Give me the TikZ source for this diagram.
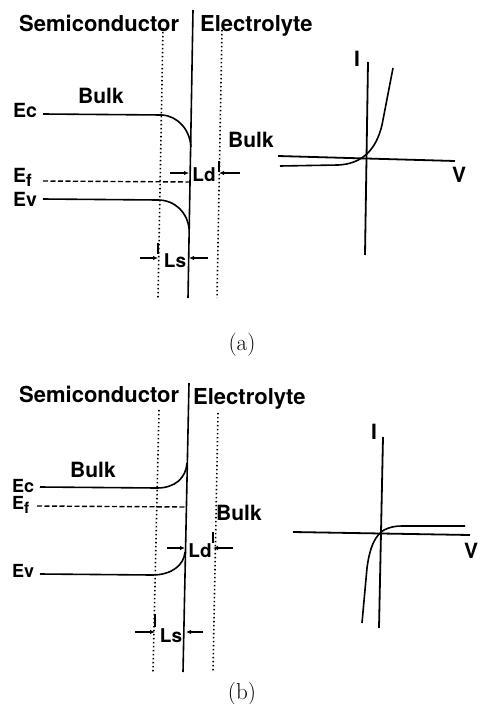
\documentclass[tikz,border=0pt]{standalone}
\usepackage{fontspec}
\newfontfamily\labfont{TeX Gyre Heros}
\usetikzlibrary{arrows.meta}
\begin{document}
\begin{tikzpicture}[x=1pt,y=-1pt,
  lab/.style={font=\labfont\bfseries\fontsize{21}{24}\selectfont,inner sep=0pt},
  elab/.style={font=\labfont\bfseries\fontsize{19.5}{22}\selectfont,inner sep=0pt,anchor=base west},
  elabb/.style={font=\labfont\bfseries\fontsize{18}{20}\selectfont,inner sep=0pt,anchor=base west},
  head/.style={font=\labfont\bfseries\fontsize{22}{26}\selectfont,inner sep=0pt,anchor=base west},
  small/.style={font=\labfont\bfseries\fontsize{19}{22}\selectfont,inner sep=0pt},
  capt/.style={font=\fontsize{23}{26}\selectfont,inner sep=0pt},
  band/.style={line width=1.6pt},
  fermi/.style={line width=1.4pt,dash pattern=on 5pt off 2.5pt},
  dots/.style={line width=1.6pt,dash pattern=on 1.4pt off 2.6pt},
  iface/.style={line width=1.6pt},
  axis/.style={line width=1.8pt},
  dim/.style={line width=1.3pt,-{Latex[length=5pt,width=4.5pt]}},
  tick/.style={line width=1.4pt}]
\useasboundingbox (0,0) rectangle (481,704);

% ================= (a) =================
\node[head] (semiA) at (19,31) {Semiconductor};
\node[head] (elecA) at (200,31) {Electrolyte};
\coordinate (ifA1) at (193,10); \coordinate (ifA2) at (188,298);
\draw[iface] (ifA1) -- (ifA2);
\coordinate (dlA1) at (163,28); \coordinate (dlA2) at (158,298);
\coordinate (drA1) at (222,30); \coordinate (drA2) at (217,298);
\draw[dots] (dlA1) -- (dlA2);
\draw[dots] (drA1) -- (drA2);

\node[elab] (EcA) at (13,117) {Ec};
\node[elab] (EfA) at (13,182) {E\raisebox{-4pt}{\fontsize{17}{17}\selectfont f}};
\node[elab] (EvA) at (13,206) {Ev};
\node[lab,anchor=base west] (bulkA1) at (78,103) {Bulk};
\node[lab,anchor=base west] (bulkA2) at (228,147) {Bulk};

\coordinate (ecA0) at (43,114); \coordinate (ecA1) at (162,115); \coordinate (ecA2) at (191,147);
\draw[band] (ecA0) -- (ecA1) .. controls (178,116) and (190,130) .. (ecA2);
\coordinate (efA0) at (43,181); \coordinate (efA1) at (190,182);
\draw[fermi] (efA0) -- (efA1);
\coordinate (evA0) at (43,199); \coordinate (evA1) at (158,200); \coordinate (evA2) at (189,229);
\draw[band] (evA0) -- (evA1) .. controls (175,200) and (188,213) .. (evA2);

% Ld (a)
\node[small,anchor=center] (LdA) at (204,175) {Ld};
\coordinate (ldA0) at (170,173); \coordinate (ldA1) at (189,173);
\coordinate (ldA2) at (240,173); \coordinate (ldA3) at (219,173);
\draw[dim] (ldA0) -- (ldA1);
\draw[dim] (ldA2) -- (ldA3);
\coordinate (ldAt1) at (219,161); \coordinate (ldAt2) at (219,172);
\draw[tick] (ldAt1) -- (ldAt2);
% Ls (a)
\node[small,anchor=center] (LsA) at (175,261) {Ls};
\coordinate (lsA0) at (140,258); \coordinate (lsA1) at (158,258);
\coordinate (lsA2) at (208,258); \coordinate (lsA3) at (189,258);
\draw[dim] (lsA0) -- (lsA1);
\draw[dim] (lsA2) -- (lsA3);
\coordinate (lsAt1) at (158,243); \coordinate (lsAt2) at (158,254);
\draw[tick] (lsAt1) -- (lsAt2);

% IV (a)
\coordinate (iA1) at (368,62); \coordinate (iA2) at (365,255);
\coordinate (vA1) at (278,156); \coordinate (vA2) at (455,161);
\draw[axis] (iA1) -- (iA2);
\draw[axis] (vA1) -- (vA2);
\node[lab,anchor=center] (IA) at (357,59) {I};
\node[lab,anchor=center] (VA) at (459,175) {V};
\coordinate (cA0) at (280,166); \coordinate (cA1) at (338,165);
\coordinate (cA2) at (382,125); \coordinate (cA3) at (393,68);
\draw[band] (cA0) -- (cA1) .. controls (362,164) and (376,150) .. (cA2) -- (cA3);

\node[capt] (captA) at (242,345) {(a)};

% ================= (b) =================
\node[head] (semiB) at (19,402) {Semiconductor};
\node[head] (elecB) at (193,404) {Electrolyte};
\coordinate (ifB1) at (189,383); \coordinate (ifB2) at (183,672);
\draw[iface] (ifB1) -- (ifB2);
\coordinate (dlB1) at (159,410); \coordinate (dlB2) at (153,672);
\coordinate (drB1) at (218,413); \coordinate (drB2) at (213,672);
\draw[dots] (dlB1) -- (dlB2);
\draw[dots] (drB1) -- (drB2);

\node[elabb] (EcB) at (12,492) {Ec};
\node[elabb] (EfB) at (12,509) {E\raisebox{-4pt}{\fontsize{15.5}{15.5}\selectfont f}};
\node[elabb] (EvB) at (12,577) {Ev};
\node[lab,anchor=base west] (bulkB1) at (70,477) {Bulk};
\node[lab,anchor=base west] (bulkB2) at (216,520) {Bulk};

\coordinate (ecB0) at (40,487); \coordinate (ecB1) at (157,488); \coordinate (ecB2) at (187,463);
\draw[band] (ecB0) -- (ecB1) .. controls (175,488) and (186,478) .. (ecB2);
\coordinate (efB0) at (37,506); \coordinate (efB1) at (185,507);
\draw[fermi] (efB0) -- (efB1);
\coordinate (evB0) at (40,574); \coordinate (evB1) at (152,575); \coordinate (evB2) at (185,552);
\draw[band] (evB0) -- (evB1) .. controls (172,575) and (184,565) .. (evB2);

% Ld (b)
\node[small,anchor=center] (LdB) at (200,551) {Ld};
\coordinate (ldB0) at (167,548); \coordinate (ldB1) at (185,548);
\coordinate (ldB2) at (233,548); \coordinate (ldB3) at (213,548);
\draw[dim] (ldB0) -- (ldB1);
\draw[dim] (ldB2) -- (ldB3);
\coordinate (ldBt1) at (213,532); \coordinate (ldBt2) at (213,543);
\draw[tick] (ldBt1) -- (ldBt2);
% Ls (b)
\node[small,anchor=center] (LsB) at (171,636) {Ls};
\coordinate (lsB0) at (135,632); \coordinate (lsB1) at (155,632);
\coordinate (lsB2) at (203,632); \coordinate (lsB3) at (186,632);
\draw[dim] (lsB0) -- (lsB1);
\draw[dim] (lsB2) -- (lsB3);
\coordinate (lsBt1) at (155,614); \coordinate (lsBt2) at (155,627);
\draw[tick] (lsBt1) -- (lsBt2);

% IV (b)
\coordinate (iB1) at (383,437); \coordinate (iB2) at (379,628);
\coordinate (vB1) at (293,532); \coordinate (vB2) at (470,535);
\draw[axis] (iB1) -- (iB2);
\draw[axis] (vB1) -- (vB2);
\node[lab,anchor=center] (IB) at (374,432) {I};
\node[lab,anchor=center] (VB) at (471,551) {V};
\coordinate (cB0) at (362,623); \coordinate (cB1) at (367,568);
\coordinate (cB2) at (384,530); \coordinate (cB3) at (402,526); \coordinate (cB4) at (465,526);
\draw[band] (cB0) -- (cB1) .. controls (370,545) and (376,535) .. (cB2)
  .. controls (390,527) and (395,526) .. (cB3) -- (cB4);

\node[capt] (captB) at (242,694) {(b)};
\end{tikzpicture}
\end{document}
